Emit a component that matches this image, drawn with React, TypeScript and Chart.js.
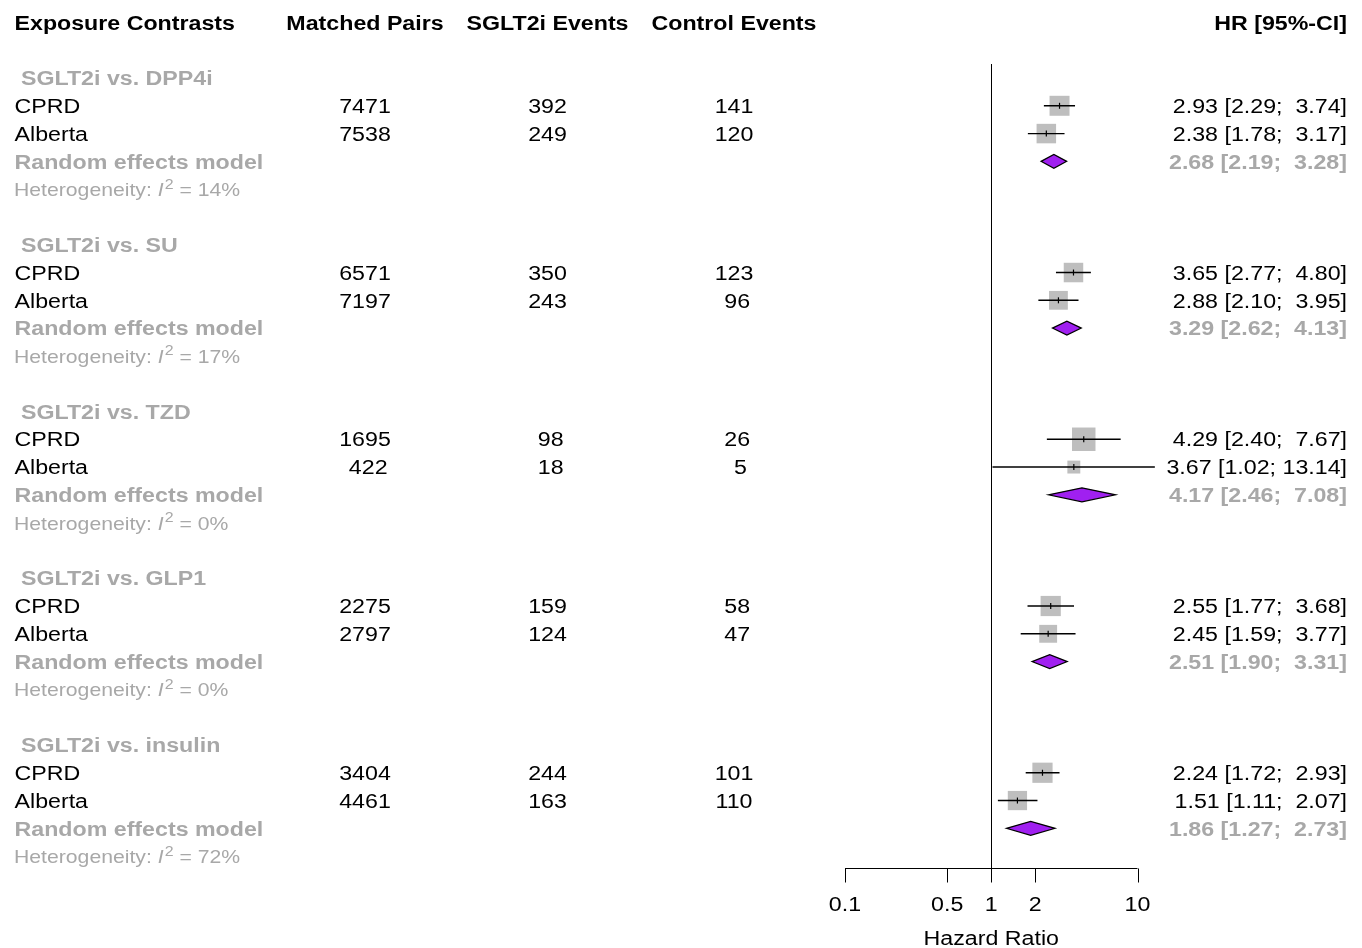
import React, { useEffect, useRef } from "react";
import { Chart, registerables } from "chart.js";

Chart.register(...registerables);

// ---------- data ----------
const columnHeaders = ["Exposure Contrasts", "Matched Pairs", "SGLT2i Events", "Control Events", "HR [95%-CI]"];
const contrasts = ["SGLT2i vs. DPP4i", "SGLT2i vs. SU", "SGLT2i vs. TZD", "SGLT2i vs. GLP1", "SGLT2i vs. insulin"];
const studies = ["CPRD", "Alberta"];
const matchedPairs = [[7471, 7538], [6571, 7197], [1695, 422], [2275, 2797], [3404, 4461]];
const sglt2iEvents = [[392, 249], [350, 243], [98, 18], [159, 124], [244, 163]];
const controlEvents = [[141, 120], [123, 96], [26, 5], [58, 47], [101, 110]];
const studyHR = [[2.93, 2.38], [3.65, 2.88], [4.29, 3.67], [2.55, 2.45], [2.24, 1.51]];
const studyLower = [[2.29, 1.78], [2.77, 2.1], [2.4, 1.02], [1.77, 1.59], [1.72, 1.11]];
const studyUpper = [[3.74, 3.17], [4.8, 3.95], [7.67, 13.14], [3.68, 3.77], [2.93, 2.07]];
const studyWeight = [[0.85, 0.83], [0.83, 0.8], [1.0, 0.55], [0.86, 0.76], [0.86, 0.82]];
const pooledLabel = "Random effects model";
const pooledHR = [2.68, 3.29, 4.17, 2.51, 1.86];
const pooledLower = [2.19, 2.62, 2.46, 1.9, 1.27];
const pooledUpper = [3.28, 4.13, 7.08, 3.31, 2.73];
const heterogeneityI2 = [14, 17, 0, 0, 72];
const xTicks = [0.1, 0.5, 1, 2, 10];
const xAxisTitle = "Hazard Ratio";

// ---------- layout / style ----------
const W = 1362;
const H = 948;
const FONT = '"Liberation Sans", Arial, Helvetica, sans-serif';
const SX = 1.16; // horizontal text stretch
const SX_HET = 1.14;
const GRAY_TEXT = "#A8A8A8";
const SQUARE = "#BEBEBE";
const DIAMOND = "#A020F0";
const ROWS_PER_GROUP = 6;
const PLOT_TOP = 64;
const PLOT_BOTTOM = 868;
const ROW0 = 78;
const ROW_STEP = 27.79;
const MAX_SIDE = 23.5;

const padLeft = (s: string, n: number) => (s.length >= n ? s : " ".repeat(n - s.length) + s);

function colStrings(arr: number[][]) {
  const flat = arr.flat().map(String);
  const n = Math.max(...flat.map((s) => s.length));
  return arr.map((r) => r.map((v) => padLeft(String(v), n)));
}

const allLower = [...studyLower.flat(), ...pooledLower].map((v) => v.toFixed(2));
const allUpper = [...studyUpper.flat(), ...pooledUpper].map((v) => v.toFixed(2));
const lowW = Math.max(...allLower.map((s) => s.length));
const upW = Math.max(...allUpper.map((s) => s.length));
const ciText = (hr: number, lo: number, hi: number) =>
  `${hr.toFixed(2)} [${padLeft(lo.toFixed(2), lowW)}; ${padLeft(hi.toFixed(2), upW)}]`;

function drawText(
  ctx: CanvasRenderingContext2D,
  text: string,
  x: number,
  y: number,
  align: "left" | "center" | "right",
  font: string,
  color: string,
  sx: number = SX
) {
  ctx.save();
  ctx.font = font;
  ctx.fillStyle = color;
  ctx.textBaseline = "alphabetic";
  ctx.textAlign = "left";
  const w = ctx.measureText(text).width * sx;
  const left = align === "left" ? x : align === "center" ? x - w / 2 : x - w;
  ctx.translate(left, y);
  ctx.scale(sx, 1);
  ctx.fillText(text, 0, 0);
  ctx.restore();
  return w;
}

const rowOf = (g: number, k: number) => g * ROWS_PER_GROUP + k;

const forestPlugin = {
  id: "forestPlugin",
  beforeDatasetsDraw(chart: any) {
    const { ctx, chartArea, scales } = chart;
    const x1 = Math.round(scales.x.getPixelForValue(1)) + 0.5;
    ctx.save();
    ctx.strokeStyle = "#000";
    ctx.lineWidth = 1;
    ctx.beginPath();
    ctx.moveTo(x1, chartArea.top);
    ctx.lineTo(x1, chartArea.bottom);
    ctx.stroke();
    ctx.restore();
  },
  afterDatasetsDraw(chart: any) {
    const { ctx, scales } = chart;
    ctx.save();
    ctx.fillStyle = DIAMOND;
    ctx.strokeStyle = "#000";
    ctx.lineWidth = 1.2;
    pooledHR.forEach((hr, g) => {
      const y = scales.y.getPixelForValue(rowOf(g, 3));
      const xl = scales.x.getPixelForValue(pooledLower[g]);
      const xm = scales.x.getPixelForValue(hr);
      const xr = scales.x.getPixelForValue(pooledUpper[g]);
      const h = 7;
      ctx.beginPath();
      ctx.moveTo(xl, y);
      ctx.lineTo(xm, y - h);
      ctx.lineTo(xr, y);
      ctx.lineTo(xm, y + h);
      ctx.closePath();
      ctx.fill();
      ctx.stroke();
    });
    ctx.restore();
  },
  afterDraw(chart: any) {
    const { ctx, scales, chartArea } = chart;
    const xs = scales.x;
    const ys = scales.y;
    const regular = `20px ${FONT}`;
    const bold = `bold 20px ${FONT}`;
    const LEFT = 14.5;
    const C1 = 365;
    const C2 = 547.5;
    const C3 = 734;
    const RIGHT = 1347;
    const base = (row: number) => ys.getPixelForValue(row) + 7.2;

    // axis
    const ay = Math.round(chartArea.bottom) + 0.5;
    ctx.save();
    ctx.strokeStyle = "#000";
    ctx.lineWidth = 1;
    ctx.beginPath();
    ctx.moveTo(xs.getPixelForValue(xTicks[0]), ay);
    ctx.lineTo(xs.getPixelForValue(xTicks[xTicks.length - 1]), ay);
    xTicks.forEach((t) => {
      const tx = Math.round(xs.getPixelForValue(t)) + 0.5;
      ctx.moveTo(tx, ay);
      ctx.lineTo(tx, ay + 14);
    });
    ctx.stroke();
    ctx.restore();
    xTicks.forEach((t) => {
      drawText(ctx, String(t), xs.getPixelForValue(t), 911, "center", regular, "#000");
    });
    drawText(ctx, xAxisTitle, xs.getPixelForValue(1), 945, "center", regular, "#000");

    // column headers
    const hb = base(-2);
    drawText(ctx, columnHeaders[0], LEFT, hb, "left", bold, "#000");
    drawText(ctx, columnHeaders[1], C1, hb, "center", bold, "#000");
    drawText(ctx, columnHeaders[2], C2, hb, "center", bold, "#000");
    drawText(ctx, columnHeaders[3], C3, hb, "center", bold, "#000");
    drawText(ctx, columnHeaders[4], RIGHT, hb, "right", bold, "#000");

    const mp = colStrings(matchedPairs);
    const se = colStrings(sglt2iEvents);
    const ce = colStrings(controlEvents);

    contrasts.forEach((name, g) => {
      drawText(ctx, " " + name, LEFT, base(rowOf(g, 0)), "left", bold, GRAY_TEXT);
      studies.forEach((s, i) => {
        const b = base(rowOf(g, 1 + i));
        drawText(ctx, s, LEFT, b, "left", regular, "#000");
        drawText(ctx, mp[g][i], C1, b, "center", regular, "#000");
        drawText(ctx, se[g][i], C2, b, "center", regular, "#000");
        drawText(ctx, ce[g][i], C3, b, "center", regular, "#000");
        drawText(ctx, ciText(studyHR[g][i], studyLower[g][i], studyUpper[g][i]), RIGHT, b, "right", regular, "#000");
      });
      const pb = base(rowOf(g, 3));
      drawText(ctx, pooledLabel, LEFT, pb, "left", bold, GRAY_TEXT);
      drawText(ctx, ciText(pooledHR[g], pooledLower[g], pooledUpper[g]), RIGHT, pb, "right", bold, GRAY_TEXT);

      const hbse = ys.getPixelForValue(rowOf(g, 4)) + 7;
      const hf = `18.6px ${FONT}`;
      let x = 14;
      x += drawText(ctx, "Heterogeneity: ", x, hbse, "left", hf, GRAY_TEXT, SX_HET);
      x += drawText(ctx, "I", x, hbse, "left", `italic 18.6px ${FONT}`, GRAY_TEXT, SX_HET);
      x += 1;
      x += drawText(ctx, "2", x, hbse - 7.5, "left", `14px ${FONT}`, GRAY_TEXT, SX_HET);
      drawText(ctx, ` = ${heterogeneityI2[g]}%`, x, hbse, "left", hf, GRAY_TEXT, SX_HET);
    });
  },
};

export default function App() {
  const canvasRef = useRef<HTMLCanvasElement | null>(null);

  useEffect(() => {
    const canvas = canvasRef.current;
    if (!canvas) return;

    const squarePoints: any[] = [];
    const squareRadii: number[] = [];
    const datasets: any[] = [];
    studyHR.forEach((row, g) =>
      row.forEach((hr, i) => {
        squarePoints.push({ x: hr, y: rowOf(g, 1 + i) });
        squareRadii.push((MAX_SIDE * studyWeight[g][i]) / Math.SQRT2);
      })
    );
    datasets.push({
      label: "weights",
      data: squarePoints,
      pointStyle: "rect",
      pointRadius: squareRadii,
      pointHoverRadius: squareRadii,
      backgroundColor: SQUARE,
      borderColor: SQUARE,
      borderWidth: 0,
      order: 3,
      clip: false,
    });
    studyHR.forEach((row, g) =>
      row.forEach((_, i) => {
        datasets.push({
          label: `ci-${g}-${i}`,
          data: [
            { x: studyLower[g][i], y: rowOf(g, 1 + i) },
            { x: studyUpper[g][i], y: rowOf(g, 1 + i) },
          ],
          showLine: true,
          borderColor: "#000",
          borderWidth: 1.4,
          pointRadius: 0,
          pointHoverRadius: 0,
          order: 2,
          clip: false,
        });
      })
    );
    datasets.push({
      label: "estimates",
      data: squarePoints,
      pointStyle: "line",
      rotation: 90,
      pointRadius: 3,
      pointHoverRadius: 3,
      borderColor: "#000",
      borderWidth: 1.2,
      order: 1,
      clip: false,
    });

    const yMin = -(ROW0 - PLOT_TOP) / ROW_STEP;
    const yMax = (PLOT_BOTTOM - ROW0) / ROW_STEP;

    const chart = new Chart(canvas, {
      type: "scatter",
      data: { datasets },
      options: {
        responsive: false,
        animation: false,
        devicePixelRatio: 1,
        events: [],
        layout: { padding: { left: 845, right: W - 1137.5, top: PLOT_TOP, bottom: H - PLOT_BOTTOM } },
        plugins: { legend: { display: false }, tooltip: { enabled: false } },
        scales: {
          x: { type: "logarithmic", min: 0.1, max: 10, display: false, bounds: "data" },
          y: { type: "linear", reverse: true, min: yMin, max: yMax, display: false, bounds: "data" },
        },
      } as any,
      plugins: [forestPlugin],
    });
    return () => chart.destroy();
  }, []);

  return (
    <canvas
      ref={canvasRef}
      width={W}
      height={H}
      style={{ position: "absolute", left: 0, top: 0, display: "block", background: "#fff" }}
    />
  );
}
